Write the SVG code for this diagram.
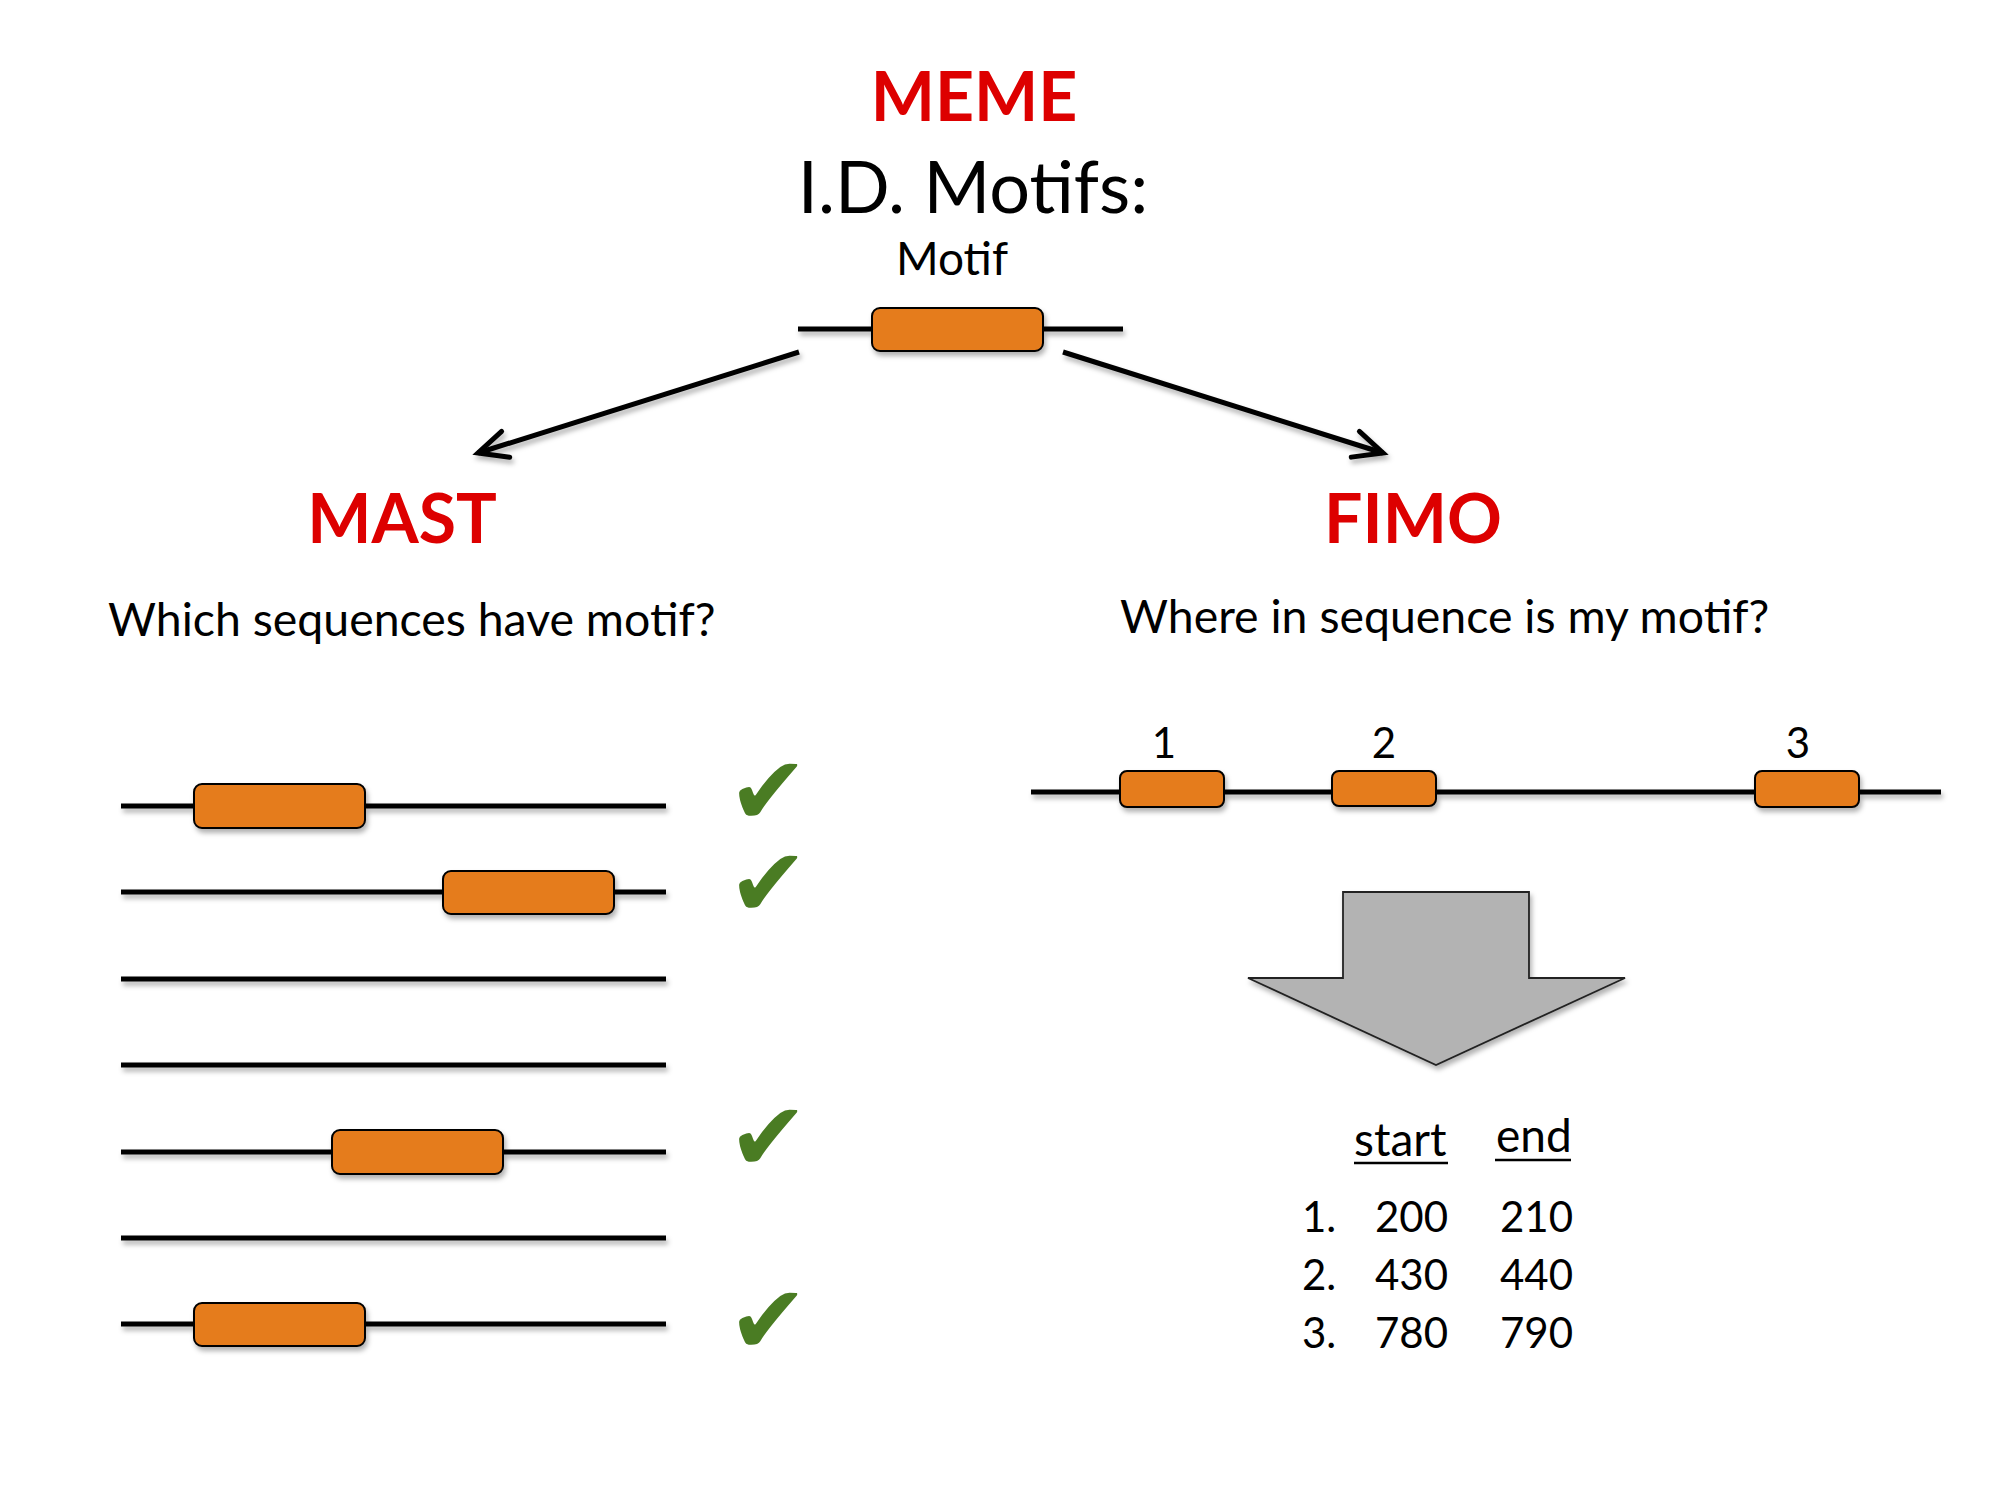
<svg xmlns="http://www.w3.org/2000/svg" width="2000" height="1500" viewBox="0 0 2000 1500">
  <defs>
    <filter id="shadow" filterUnits="userSpaceOnUse" x="0" y="0" width="2000" height="1500">
      <feDropShadow dx="2" dy="4" stdDeviation="2.5" flood-color="#000" flood-opacity="0.3"/>
    </filter>
    <marker id="open" markerUnits="userSpaceOnUse" markerWidth="40" markerHeight="40" viewBox="-35 -20 40 40" refX="0" refY="0" orient="auto" overflow="visible">
      <path d="M-29,-13.5 L0,0 L-29,13.5" fill="none" stroke="#000" stroke-width="5" stroke-linecap="round" stroke-linejoin="miter"/>
    </marker>
  </defs>
  <style>
    .title { font-family: Lato, "Liberation Sans", sans-serif; font-weight: bold; fill: #dd0000; }
    .txt { font-family: Lato, "Liberation Sans", sans-serif; fill: #000; }
    .seq { stroke: #000; stroke-width: 5; fill: none; }
    .motif { fill: #e57b1f; stroke: #000; stroke-width: 2; }
    .check { font-family: "DejaVu Sans", sans-serif; fill: #4a7c23; }
    .conn { stroke: #000; stroke-width: 5; fill: none; stroke-linecap: butt; }
  </style>
  <rect width="2000" height="1500" fill="#fff"/>

  <g id="meme">
    <text class="title" x="974" y="121" font-size="68" text-anchor="middle">MEME</text>
    <text class="txt" x="973" y="213" font-size="72" text-anchor="middle">I.D. Motifs:</text>
    <text class="txt" x="952" y="275" font-size="46" text-anchor="middle">Motif</text>
    <g filter="url(#shadow)">
      <line class="seq" x1="798" y1="329" x2="1123" y2="329"/>
      <rect class="motif" x="872" y="308" width="171" height="43" rx="8"/>
    </g>
  </g>

  <g id="connectors" filter="url(#shadow)">
    <line class="conn" x1="799" y1="352" x2="478" y2="453" marker-end="url(#open)"/>
    <line class="conn" x1="1063" y1="352" x2="1383" y2="453" marker-end="url(#open)"/>
  </g>

  <g id="mast">
    <text class="title" x="402" y="543" font-size="68" text-anchor="middle">MAST</text>
    <text class="txt" x="108" y="636" font-size="46.4">Which sequences have motif?</text>
    <g id="mast-seq1" filter="url(#shadow)">
      <line class="seq" x1="121" y1="806" x2="666" y2="806"/>
      <rect class="motif" x="194" y="784" width="171" height="44" rx="8"/>
    </g>
    <g id="mast-seq2" filter="url(#shadow)">
      <line class="seq" x1="121" y1="892" x2="666" y2="892"/>
      <rect class="motif" x="443" y="871" width="171" height="43" rx="8"/>
    </g>
    <g id="mast-seq3" filter="url(#shadow)">
      <line class="seq" x1="121" y1="979" x2="666" y2="979"/>
    </g>
    <g id="mast-seq4" filter="url(#shadow)">
      <line class="seq" x1="121" y1="1065" x2="666" y2="1065"/>
    </g>
    <g id="mast-seq5" filter="url(#shadow)">
      <line class="seq" x1="121" y1="1152" x2="666" y2="1152"/>
      <rect class="motif" x="332" y="1130" width="171" height="44" rx="8"/>
    </g>
    <g id="mast-seq6" filter="url(#shadow)">
      <line class="seq" x1="121" y1="1238" x2="666" y2="1238"/>
    </g>
    <g id="mast-seq7" filter="url(#shadow)">
      <line class="seq" x1="121" y1="1324" x2="666" y2="1324"/>
      <rect class="motif" x="194" y="1303" width="171" height="43" rx="8"/>
    </g>
    <g id="checks">
      <text class="check" x="728" y="824" font-size="96">✔</text>
      <text class="check" x="728" y="916" font-size="96">✔</text>
      <text class="check" x="728" y="1170" font-size="96">✔</text>
      <text class="check" x="728" y="1353" font-size="96">✔</text>
    </g>
  </g>

  <g id="fimo">
    <text class="title" x="1413" y="543" font-size="68" text-anchor="middle">FIMO</text>
    <text class="txt" x="1120" y="633" font-size="46.4">Where in sequence is my motif?</text>
    <text class="txt" x="1164" y="758" font-size="42" text-anchor="middle">1</text>
    <text class="txt" x="1384" y="758" font-size="42" text-anchor="middle">2</text>
    <text class="txt" x="1798" y="758" font-size="42" text-anchor="middle">3</text>
    <g id="fimo-seq" filter="url(#shadow)">
      <line class="seq" x1="1031" y1="792" x2="1941" y2="792"/>
      <rect class="motif" x="1120" y="771" width="104" height="36" rx="7"/>
      <rect class="motif" x="1332" y="771" width="104" height="35" rx="7"/>
      <rect class="motif" x="1755" y="771" width="104" height="36" rx="7"/>
    </g>
    <g id="down-arrow" filter="url(#shadow)">
      <path d="M1343,892 L1529,892 L1529,978 L1625,978 L1436,1065 L1248,978 L1343,978 Z" fill="#b3b3b3" stroke="#222" stroke-width="1.8" stroke-linejoin="miter"/>
    </g>
    <g id="table">
      <text class="txt" x="1354" y="1156" font-size="46">start</text>
      <line x1="1354" y1="1163" x2="1448" y2="1163" stroke="#000" stroke-width="2.5"/>
      <text class="txt" x="1496" y="1152" font-size="46">end</text>
      <line x1="1495" y1="1160" x2="1571" y2="1160" stroke="#000" stroke-width="2.5"/>
      <text class="txt" x="1302" y="1232" font-size="42">1.</text>
      <text class="txt" x="1448" y="1232" font-size="42" text-anchor="end">200</text>
      <text class="txt" x="1573" y="1232" font-size="42" text-anchor="end">210</text>
      <text class="txt" x="1302" y="1290" font-size="42">2.</text>
      <text class="txt" x="1448" y="1290" font-size="42" text-anchor="end">430</text>
      <text class="txt" x="1573" y="1290" font-size="42" text-anchor="end">440</text>
      <text class="txt" x="1302" y="1348" font-size="42">3.</text>
      <text class="txt" x="1448" y="1348" font-size="42" text-anchor="end">780</text>
      <text class="txt" x="1573" y="1348" font-size="42" text-anchor="end">790</text>
    </g>
  </g>
</svg>
